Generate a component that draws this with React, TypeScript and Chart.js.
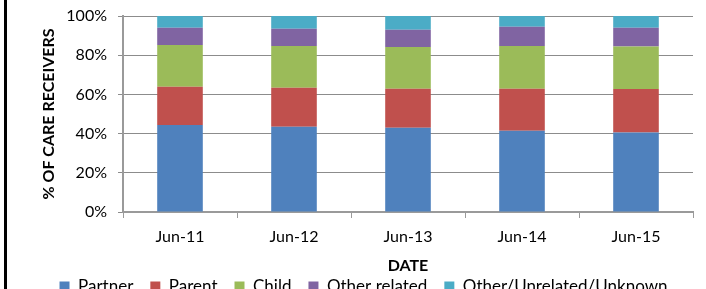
import React, { useEffect, useRef } from "react";
import { Chart, registerables } from "chart.js";

Chart.register(...registerables);

const categories = ["Jun-11", "Jun-12", "Jun-13", "Jun-14", "Jun-15"];
const partner = [44.4, 43.5, 43.0, 41.5, 40.5];
const parent = [19.5, 19.9, 19.9, 21.4, 22.3];
const child = [21.3, 21.3, 21.3, 21.8, 21.7];
const otherRelated = [8.8, 8.8, 8.8, 9.8, 9.5];
const otherUnrelated = [6.0, 6.5, 7.0, 5.5, 6.0];
const yTicks = [0, 20, 40, 60, 80, 100];

const FONT = "Lato, 'Open Sans', sans-serif";

export default function App() {
  const ref = useRef<HTMLCanvasElement | null>(null);
  useEffect(() => {
    if (!ref.current) return;
    const mk = (label: string, data: number[], color: string) => ({
      label,
      data,
      backgroundColor: color,
      borderWidth: 0,
      categoryPercentage: 1,
      barPercentage: 0.4,
    });
    const chart = new Chart(ref.current, {
      type: "bar",
      data: {
        labels: categories,
        datasets: [
          mk("Partner", partner, "#4F81BD"),
          mk("Parent", parent, "#C0504D"),
          mk("Child", child, "#9BBB59"),
          mk("Other related", otherRelated, "#8064A2"),
          mk("Other/Unrelated/Unknown", otherUnrelated, "#4BACC6"),
        ],
      },
      options: {
        animation: false,
        responsive: false,
        maintainAspectRatio: false,
        layout: { padding: { left: 34, right: 13, top: 16, bottom: 0 } },
        plugins: {
          tooltip: { enabled: false },
          legend: {
            position: "bottom",
            labels: {
              boxWidth: 10,
              boxHeight: 10,
              padding: 17,
              color: "#000",
              font: { family: FONT, size: 17 },
            },
          },
        },
        scales: {
          x: {
            stacked: true,
            offset: true,
            afterFit: (s: any) => {
              s.height = 49;
            },
            grid: {
              offset: true,
              drawOnChartArea: false,
              drawTicks: true,
              tickLength: 6,
              color: "#9a9a9a",
              lineWidth: 1,
            },
            border: { color: "#9a9a9a", width: 2 },
            ticks: {
              color: "#000",
              padding: 9,
              font: { family: FONT, size: 16 },
            },
            title: {
              display: true,
              text: "DATE",
              color: "#000",
              font: { family: FONT, size: 16, weight: "bold" },
              padding: { top: 0, bottom: -14.6 },
            },
          },
          y: {
            stacked: true,
            min: 0,
            max: 100,
            afterFit: (s: any) => {
              s.width = 89;
              s.paddingTop = 0;
              s.paddingBottom = 0;
            },
            afterBuildTicks: (s: any) => {
              s.ticks = yTicks.map((v) => ({ value: v }));
            },
            grid: {
              color: "#8c8c8c",
              lineWidth: 1,
              tickLength: 5,
            },
            border: { color: "#9a9a9a", width: 2 },
            ticks: {
              color: "#000",
              padding: 11,
              font: { family: FONT, size: 16 },
              callback: (v: any) => v + "%",
            },
            title: {
              display: true,
              text: "% OF CARE RECEIVERS",
              color: "#000",
              font: { family: FONT, size: 16, weight: "bold" },
              padding: { top: 5, bottom: 0 },
            },
          },
        },
      },
    });
    return () => chart.destroy();
  }, []);
  return (
    <div
      style={{
        position: "fixed",
        left: 0,
        top: 0,
        width: 706,
        height: 305,
        background: "#fff",
      }}
    >
      <canvas ref={ref} width={706} height={305} style={{ display: "block" }} />
      <div
        style={{
          position: "absolute",
          left: 4,
          top: 0,
          width: 3,
          height: 305,
          background: "#000",
        }}
      />
    </div>
  );
}
